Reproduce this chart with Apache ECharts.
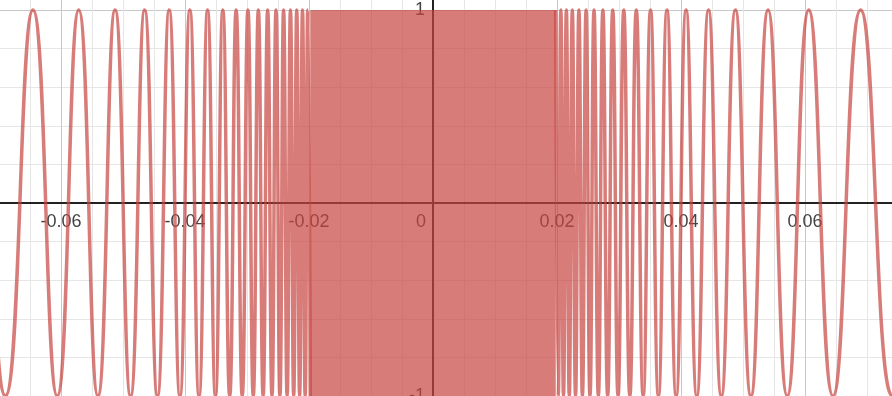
<!DOCTYPE html>
<html><head><meta charset="utf-8">
<script src="https://cdn.jsdelivr.net/npm/echarts@6/dist/echarts.min.js"></script>
<style>html,body{margin:0;padding:0;background:#fff}#c{width:892px;height:396px}</style>
</head><body><div id="c"></div>
<script>
// Extrema of the oscillating curve (x positions), left branch
const leftX = [-0.08000,-0.07407,-0.06897,-0.06452,-0.06061,-0.05714,-0.05405,-0.05128,-0.04878,-0.04651,-0.04444,-0.04255,-0.04082,-0.03922,-0.03774,-0.03636,-0.03509,-0.03390,-0.03279,-0.03175,-0.03077,-0.02985,-0.02899,-0.02817,-0.02740,-0.02667,-0.02597,-0.02532,-0.02469,-0.02410,-0.02353,-0.02299,-0.02247,-0.02198,-0.02151,-0.02105,-0.02062,-0.02020,-0.01980];
const leftY = [-1,1,-1,1,-1,1,-1,1,-1,1,-1,1,-1,1,-1,1,-1,1,-1,1,-1,1,-1,1,-1,1,-1,1,-1,1,-1,1,-1,1,-1,1,-1,1,-1];
// right branch
const rightX = [0.01980,0.02020,0.02062,0.02105,0.02151,0.02198,0.02247,0.02299,0.02353,0.02410,0.02469,0.02532,0.02597,0.02667,0.02740,0.02817,0.02899,0.02985,0.03077,0.03175,0.03279,0.03390,0.03509,0.03636,0.03774,0.03922,0.04082,0.04255,0.04444,0.04651,0.04878,0.05128,0.05405,0.05714,0.06061,0.06452,0.06897,0.07407,0.08000];
const rightY = [1,-1,1,-1,1,-1,1,-1,1,-1,1,-1,1,-1,1,-1,1,-1,1,-1,1,-1,1,-1,1,-1,1,-1,1,-1,1,-1,1,-1,1,-1,1,-1,1];
// central region where oscillation is unresolved (solid band)
const bandX = [-0.0198, 0.0198];
const bandY = [-1, 1];
// tick labels
const xTickValues = [-0.06,-0.04,-0.02,0,0.02,0.04,0.06];
const xTickLabels = ['-0.06','-0.04','-0.02','0','0.02','0.04','0.06'];
const yTickValues = [-1, 1];
const yTickLabels = ['-1','1'];

const curveColor = 'rgba(199,68,64,0.70)';
const minorGrid = '#e6e6e6';
const majorGrid = '#c8c8c8';
const font = 'Liberation Sans, Arial, sans-serif';

function pairs(xs, ys){ return xs.map((x,i)=>[x, ys[i]]); }
function lookup(v, vals, labs){
  for (let i=0;i<vals.length;i++) if (Math.abs(v-vals[i])<1e-9) return labs[i];
  return null;
}

const chart = echarts.init(document.getElementById('c'), null, {renderer:'canvas'});
const lineStyle = {color: curveColor, width: 3.5};
chart.setOption({
  animation: false,
  backgroundColor: '#fff',
  grid: {left: -63, right: -37, top: -28.6, bottom: -38.6, containLabel: false, outerBoundsMode: 'none'},
  xAxis: {
    type: 'value', min: -0.08, max: 0.08, interval: 0.005, offset: -231.6,
    axisLine: {onZero: false, lineStyle: {color: '#222', width: 2}},
    axisTick: {show: false},
    splitLine: {show: true, lineStyle: {color: [majorGrid, minorGrid, minorGrid, minorGrid], width: 1}},
    axisLabel: {
      margin: 10, fontSize: 18, color: '#444', fontFamily: font,
      formatter: function(v){
        const l = lookup(v, xTickValues, xTickLabels);
        if (l === null) return '';
        if (l === '0') return '{z|0}';
        return l;
      },
      rich: {z: {fontSize: 18, color: '#444', padding: [0, 24, 0, 0], fontFamily: font}}
    }
  },
  yAxis: {
    type: 'value', min: -1.2, max: 1.2, interval: 0.2, offset: -496,
    axisLine: {onZero: false, lineStyle: {color: '#222', width: 2}},
    axisTick: {show: false},
    splitLine: {show: true, lineStyle: {color: [minorGrid, majorGrid, minorGrid, minorGrid, minorGrid], width: 1}},
    axisLabel: {
      margin: 8, fontSize: 18, color: '#444', fontFamily: font,
      formatter: function(v){ const l = lookup(v, yTickValues, yTickLabels); return l === null ? '' : l; }
    }
  },
  series: [
    {type: 'line', data: pairs(leftX, leftY), smooth: 0.5, showSymbol: false, symbol: 'none', lineStyle: lineStyle, silent: true},
    {type: 'line', data: pairs(rightX, rightY), smooth: 0.5, showSymbol: false, symbol: 'none', lineStyle: lineStyle, silent: true,
      markArea: {silent: true, itemStyle: {color: curveColor},
        data: [[{xAxis: bandX[0], yAxis: bandY[0]}, {xAxis: bandX[1], yAxis: bandY[1]}]]}}
  ]
});
</script></body></html>
